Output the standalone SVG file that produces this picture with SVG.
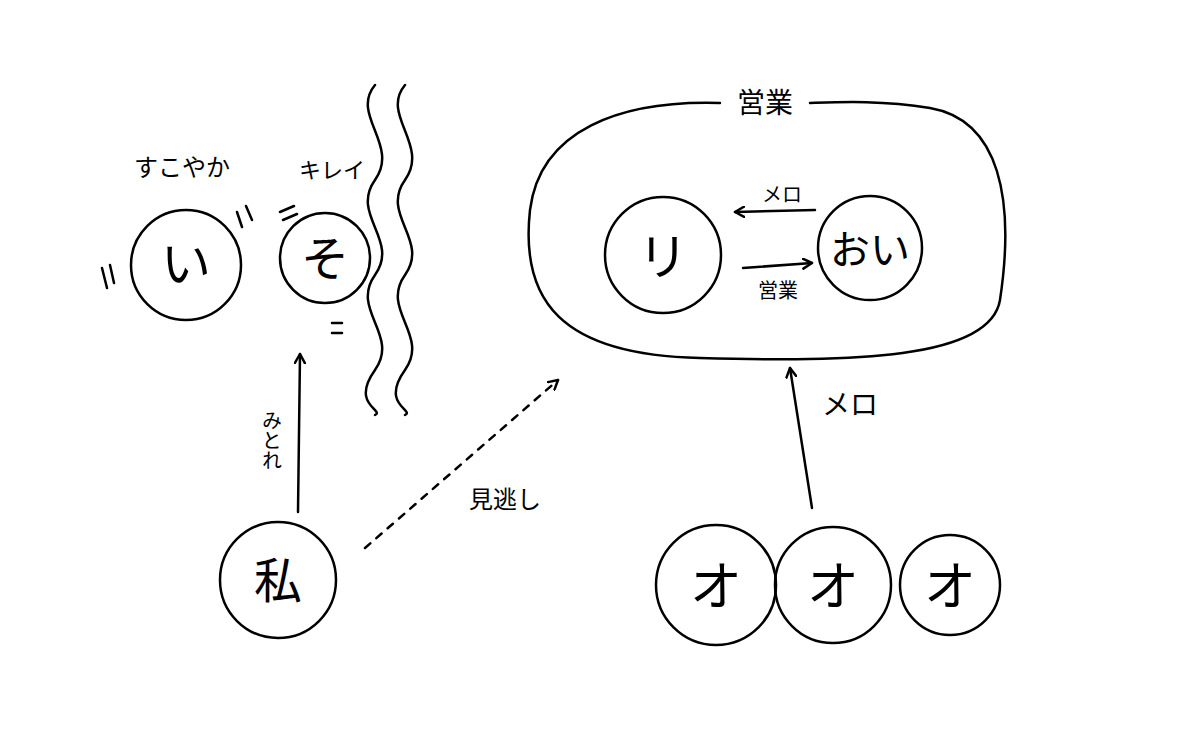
<svg xmlns="http://www.w3.org/2000/svg" width="1180" height="752" viewBox="0 0 1180 752">
<style>
.s{fill:none;stroke:#000;stroke-width:2.5;stroke-linecap:round;stroke-linejoin:round}
.t{font-family:"Noto Sans CJK JP",sans-serif;fill:#000}
</style>
<defs><marker id="a" viewBox="0 0 12 12" refX="10" refY="6" markerWidth="12" markerHeight="12" markerUnits="userSpaceOnUse" orient="auto"><path d="M1 1L10 6L1 11" class="s" stroke-width="2"/></marker></defs>
<rect width="1180" height="752" fill="#fff"/>
<g id="i"><circle cx="186" cy="265" r="55" class="s"/><text x="186" y="282" font-size="50" text-anchor="middle" class="t">い</text>
<path d="M102 268l5 20M110 265l4 18M237 212l5 15M246 206l6 14" class="s"/></g>
<text x="182" y="176" font-size="24" text-anchor="middle" class="t">すこやか</text>
<g id="so"><circle cx="325" cy="258" r="45" class="s"/><text x="325" y="276" font-size="48" text-anchor="middle" class="t">そ</text>
<path d="M280 212l14-6M283 220l14-6M332 323h10M332 333h10" class="s"/></g>
<text x="332" y="178" font-size="22" text-anchor="middle" class="t">キレイ</text>
<g id="wall"><path d="M375 85c-25 30 25 60 0 95s25 60 0 95s25 60 0 95s10 40 0 45" class="s"/><path d="M405 85c-25 30 25 60 0 95s25 60 0 95s25 60 0 95s10 40 0 45" class="s"/></g>
<g id="watashi"><circle cx="278" cy="580" r="58" class="s"/><text x="278" y="598" font-size="48" text-anchor="middle" class="t">私</text></g>
<g id="eigyo"><path d="M720 103C620 100 540 130 530 210C520 300 560 355 700 358C850 362 990 360 1000 300C1015 200 1000 120 930 108C880 100 840 102 810 103" class="s"/>
<text x="765" y="113" font-size="28" text-anchor="middle" class="t">営業</text>
<circle cx="663" cy="255" r="58" class="s"/><text x="663" y="275" font-size="50" text-anchor="middle" class="t">リ</text>
<circle cx="870" cy="248" r="52" class="s"/><text x="870" y="264" font-size="40" text-anchor="middle" class="t">おい</text></g>
<g id="o"><circle cx="716" cy="585" r="60" class="s"/><circle cx="833" cy="585" r="58" class="s"/><circle cx="950" cy="585" r="50" class="s"/>
<text x="716" y="605" font-size="52" text-anchor="middle" class="t">オ</text><text x="833" y="605" font-size="52" text-anchor="middle" class="t">オ</text><text x="950" y="605" font-size="52" text-anchor="middle" class="t">オ</text></g>
<g id="connectors">
<path d="M298 512L300 354" class="s" marker-end="url(#a)"/>
<path d="M365 548L558 380" class="s" stroke-dasharray="7 8" marker-end="url(#a)"/>
<path d="M812 508L790 368" class="s" marker-end="url(#a)"/>
<path d="M815 210L735 212" class="s" marker-end="url(#a)"/>
<path d="M743 268L812 263" class="s" marker-end="url(#a)"/>
</g>
<text class="t" font-size="20" x="272" y="410" writing-mode="tb">みとれ</text>
<text x="505" y="508" font-size="24" text-anchor="middle" class="t">見逃し</text>
<text x="782" y="202" font-size="20" text-anchor="middle" class="t">メロ</text>
<text x="778" y="298" font-size="20" text-anchor="middle" class="t">営業</text>
<text x="850" y="415" font-size="28" text-anchor="middle" class="t">メロ</text>
</svg>
